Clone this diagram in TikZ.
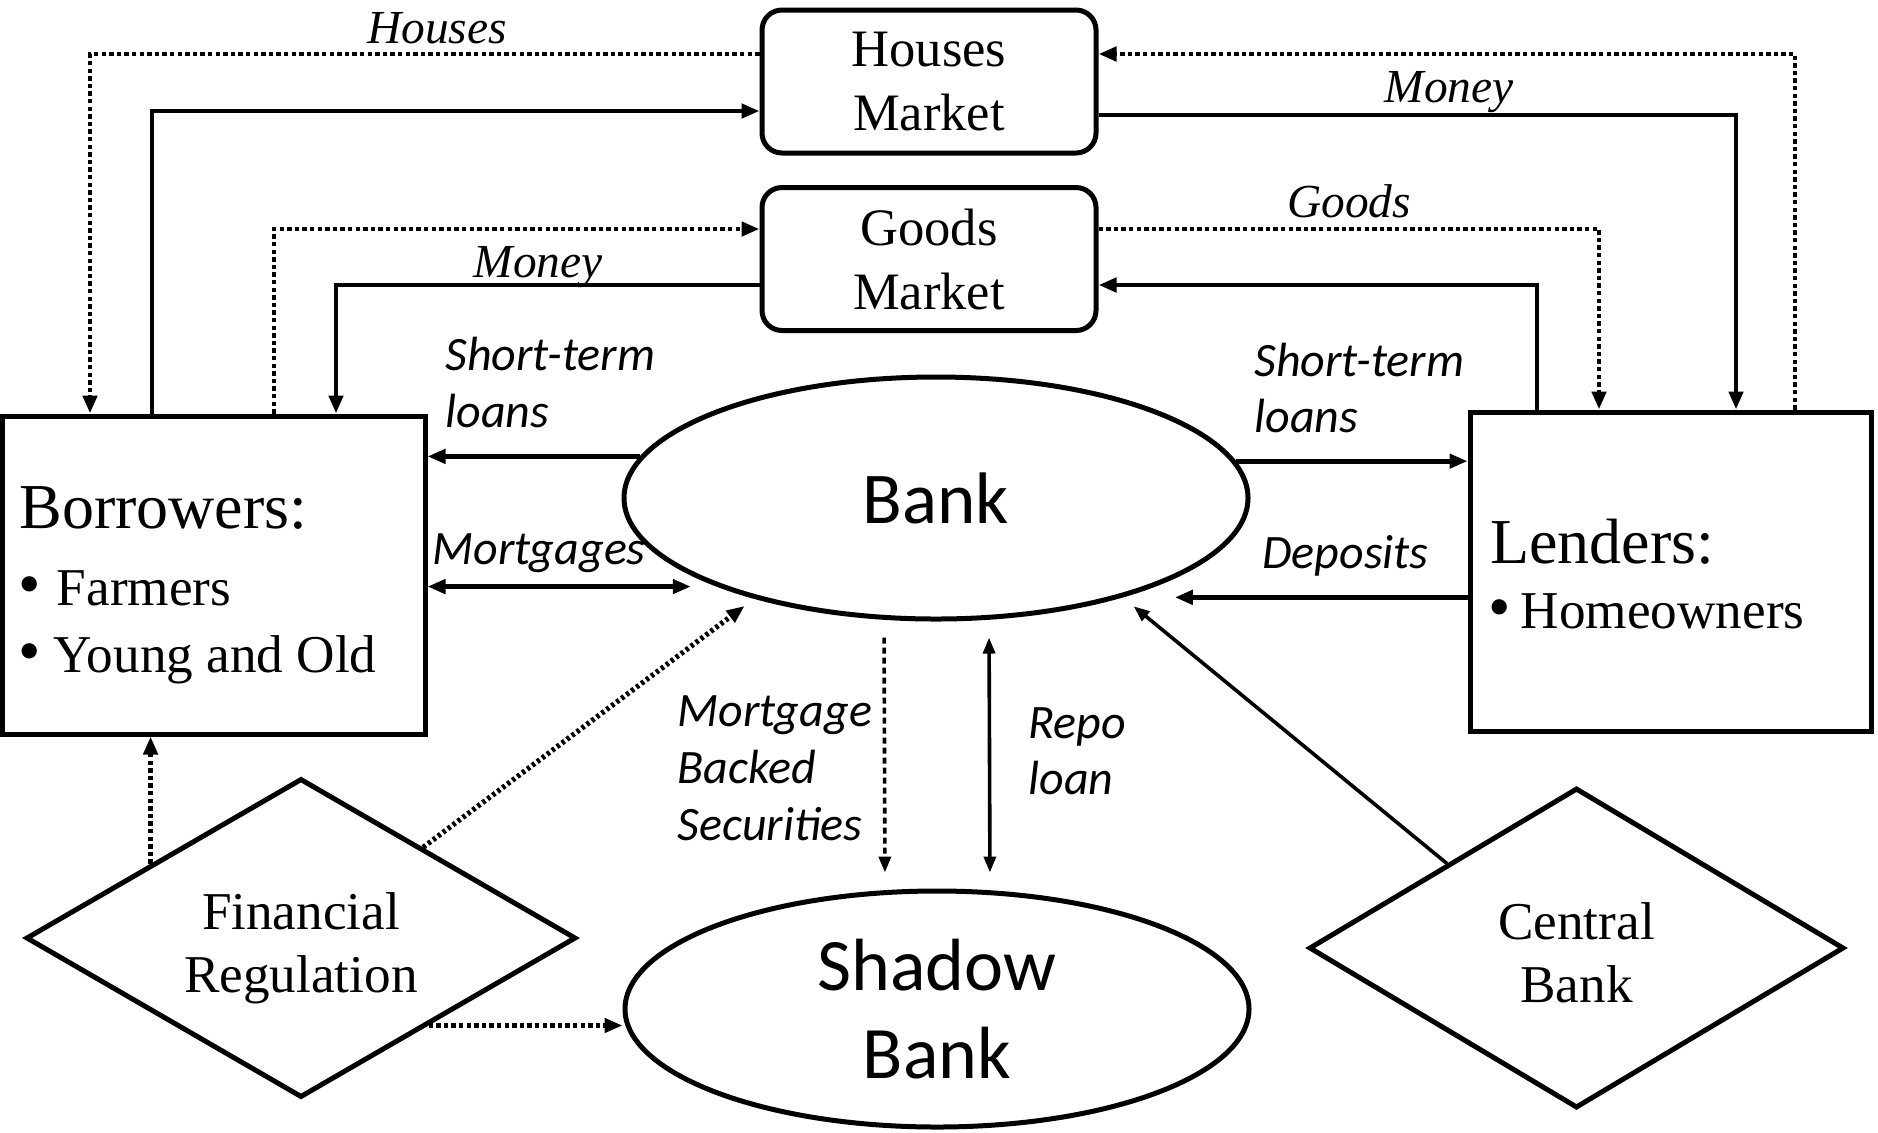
\documentclass[tikz,border=0pt]{standalone}
\usepackage{fontspec}
\setmainfont{Liberation Serif}
\newfontfamily\calfont{Carlito}
\usetikzlibrary{arrows.meta,shapes.geometric,calc}
\newcommand{\mybul}{{\fontsize{32}{32}\selectfont\textbullet}}
\begin{document}
\begin{tikzpicture}[x=0.5pt,y=-0.5pt,
  box/.style={draw, line width=2.5pt, inner sep=0pt},
  mkt/.style={box, rounded corners=10pt, minimum width=167pt, minimum height=71.5pt, align=center, font=\fontsize{26.3}{32}\selectfont},
  actor/.style={box},
  bankshape/.style={draw, line width=2.5pt, ellipse, inner sep=0pt, minimum width=312pt, minimum height=121pt, align=center},
  regshape/.style={draw, line width=2.5pt, diamond, inner sep=0pt},
  regtext/.style={inner sep=0pt, align=center, font=\fontsize{26.6}{31.5}\selectfont},
  hd/.style={anchor=base west, inner sep=0pt, font=\fontsize{32}{36}\selectfont},
  itm/.style={anchor=base west, inner sep=0pt, font=\fontsize{26.6}{30}\selectfont},
  lab/.style={inner sep=0pt, anchor=base west, font=\calfont\itshape\fontsize{24}{28}\selectfont},
  slab/.style={inner sep=0pt, anchor=base, font=\itshape\fontsize{23.7}{28}\selectfont},
  conn/.style={line width=2.4pt, -{Triangle[length=9pt,width=7pt]}},
  biconn/.style={line width=2.4pt, {Triangle[length=9pt,width=7pt]}-{Triangle[length=9pt,width=7pt]}},
  dotconn/.style={line width=2.4pt, dash pattern=on 2.2pt off 1.6pt, -{Triangle[length=9pt,width=7pt]}},
  thinconn/.style={line width=1.8pt, -{Triangle[length=8pt,width=6pt]}},
  thinbiconn/.style={line width=1.8pt, {Triangle[length=8pt,width=6pt]}-{Triangle[length=8pt,width=6pt]}},
  mbsconn/.style={line width=1.8pt, dash pattern=on 3pt off 2pt, -{Triangle[length=8pt,width=6pt]}}
]
\useasboundingbox (0,0) rectangle (1878,1132);

% nodes
\node[mkt] (hm) at (929,81.5) {Houses\\Market};
\node[mkt] (gm) at (929,259) {Goods\\Market};
\node[actor, minimum width=211.5pt, minimum height=159pt] (bor) at (213.5,575) {};
\node[actor, minimum width=200.5pt, minimum height=159.5pt] (len) at (1670.5,571.5) {};
\node[bankshape] (bank) at (936,498) {\calfont\fontsize{36.5}{40}\selectfont Bank};
\node[bankshape, minimum height=118pt, font=\calfont\fontsize{37}{44}\selectfont] (sb) at (937,1009) {Shadow\\Bank};
\node[regshape, minimum width=275pt, minimum height=159.5pt, aspect=1.72] (fr) at (301,938) {};
\node[regtext] (frt) at (301,948) {Financial\\Regulation};
\node[regshape, minimum width=267.5pt, minimum height=160pt, aspect=1.67] (cb) at (1576.5,948) {};
\node[regtext] (cbt) at (1576.5,953) {Central\\Bank};

% box texts
\node[hd] (borh) at (19,528) {Borrowers:};
\node[itm] (bor1) at (18,605) {\mybul\hspace{8pt}Farmers};
\node[itm] (bor2) at (18,672) {\mybul\hspace{6.5pt}Young and Old};
\node[hd] (lenh) at (1490,563) {Lenders:};
\node[itm] (len1) at (1488,628) {\mybul\hspace{5pt}Homeowners};

% labels
\node[slab] (lhouses) at (437,43) {Houses};
\node[slab] (lmoney1) at (1449,102) {Money};
\node[slab] (lgoods) at (1349,217) {Goods};
\node[slab] (lmoney2) at (538,277) {Money};
\node[lab] (lst1a) at (445,370) {Short-term};
\node[lab] (lst1b) at (445,427) {loans};
\node[lab] (lmort) at (432,564) {Mortgages};
\node[lab] (lst2a) at (1254,376) {Short-term};
\node[lab] (lst2b) at (1254,432) {loans};
\node[lab] (ldep) at (1262,568) {Deposits};
\node[lab] (lmbs1) at (677,726) {Mortgage};
\node[lab] (lmbs2) at (677,783) {Backed};
\node[lab] (lmbs3) at (677,840) {Securities};
\node[lab] (lrepo1) at (1028,738) {Repo};
\node[lab] (lrepo2) at (1028,794) {loan};

% market connectors, left
\coordinate (h1) at (90,54);
\draw[dotconn] (hm.west |- h1) -- (h1) -- (h1 |- bor.north);
\coordinate (h2) at (152,111);
\draw[conn] (h2 |- bor.north) -- (h2) -- (hm.west |- h2);
\coordinate (g1) at (274,229);
\draw[dotconn] (g1 |- bor.north) -- (g1) -- (gm.west |- g1);
\coordinate (g2) at (336,285);
\draw[conn] (gm.west |- g2) -- (g2) -- (g2 |- bor.north);
% market connectors, right
\coordinate (h3) at (1795,54);
\draw[dotconn] (h3 |- len.north) -- (h3) -- (hm.east |- h3);
\coordinate (h4) at (1736,115);
\draw[conn] (hm.east |- h4) -- (h4) -- (h4 |- len.north);
\coordinate (g3) at (1599,229);
\draw[dotconn] (gm.east |- g3) -- (g3) -- (g3 |- len.north);
\coordinate (g4) at (1537,285);
\draw[conn] (g4 |- len.north) -- (g4) -- (gm.east |- g4);

% bank connectors
\draw[conn] (bank.172.5) -- (bor.east |- bank.172.5);
\draw[conn] (bank.7.5) -- (len.west |- bank.7.5);
\draw[biconn, shorten >=13pt] (bor.east |- bank.202.8) -- (bank.202.8);
\draw[conn, shorten >=26pt] (len.west |- bank.332) -- (bank.332);
\coordinate (cb1) at ($(cb.west)!0.52!(cb.north)$);
\draw[thinconn, shorten >=7pt] (cb1) -- (bank.-28.6);
\draw[mbsconn, shorten <=8pt, shorten >=8pt] ([xshift=-26pt]bank.south) -- ([xshift=-26pt]sb.north);
\draw[thinbiconn, shorten <=8pt, shorten >=8pt] ([xshift=26.5pt]bank.south) -- ([xshift=26.5pt]sb.north);

% financial regulation connectors
\coordinate (fr1) at ($(fr.north)!0.44!(fr.east)$);
\draw[dotconn, line width=2.6pt, dash pattern=on 1.6pt off 1.5pt, shorten >=6pt] (fr1) -- (bank.209.5);
\coordinate (fr2) at ($(fr.west)!0.458!(fr.north)$);
\draw[dotconn] (fr2) -- (fr2 |- bor.south);
\coordinate (fr3) at ($(fr.east)!0.54!(fr.south)$);
\draw[dotconn] (fr3) -- (fr3 -| sb.west);
\end{tikzpicture}
\end{document}
